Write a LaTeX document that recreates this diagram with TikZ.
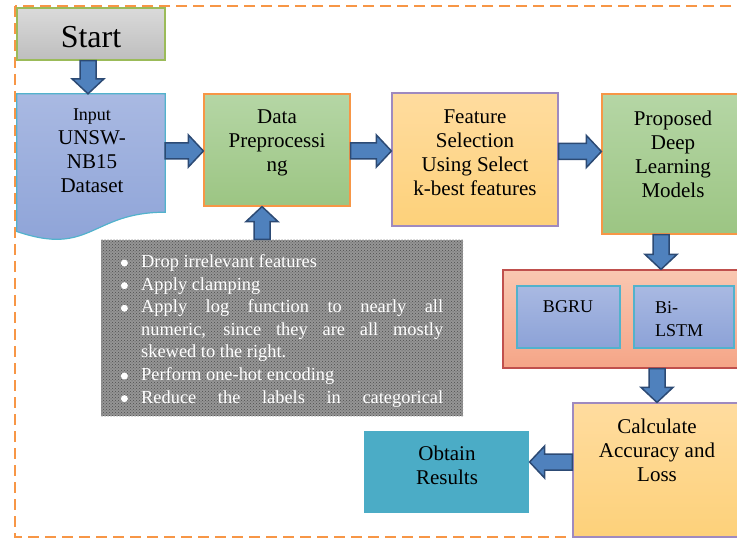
\documentclass[tikz,border=0pt]{standalone}
\usepackage{fontspec}
\setmainfont{Liberation Serif}
\usetikzlibrary{calc,patterns}

\definecolor{frameorange}{HTML}{F79646}
\definecolor{arrowfill}{HTML}{4F81BD}
\definecolor{arrowline}{HTML}{2C4A74}
\definecolor{grayTop}{HTML}{DADADA}
\definecolor{grayBot}{HTML}{BEBEBE}
\definecolor{grayLine}{HTML}{9BBB59}
\definecolor{blueTop}{HTML}{A9B9E2}
\definecolor{blueBot}{HTML}{8CA2D7}
\definecolor{blueLine}{HTML}{52B2CC}
\definecolor{greenTop}{HTML}{B5D6A5}
\definecolor{greenBot}{HTML}{9CC583}
\definecolor{greenLine}{HTML}{F79646}
\definecolor{yellowTop}{HTML}{FFDC9F}
\definecolor{yellowBot}{HTML}{FDD17A}
\definecolor{yellowLine}{HTML}{9F8AC0}
\definecolor{redTop}{HTML}{F9C7B1}
\definecolor{redBot}{HTML}{F5A587}
\definecolor{redLine}{HTML}{C0504D}
\definecolor{tealFill}{HTML}{4BACC6}
\definecolor{noteGray}{HTML}{959595}
\definecolor{noteDots}{HTML}{4E4E4E}

% block arrows: #1 tail point, #2 tip point
\newcommand\arrowdown[2]{\draw[barrow] let \p1=#1, \p2=#2 in
  (\x1-8,\y1) -- (\x1-8,\y2+15) -- (\x1-16,\y2+15) -- (\x1,\y2)
  -- (\x1+16,\y2+15) -- (\x1+8,\y2+15) -- (\x1+8,\y1) -- cycle;}
\newcommand\arrowup[2]{\draw[barrow] let \p1=#1, \p2=#2 in
  (\x1-8,\y1) -- (\x1-8,\y2-15) -- (\x1-16,\y2-15) -- (\x1,\y2)
  -- (\x1+16,\y2-15) -- (\x1+8,\y2-15) -- (\x1+8,\y1) -- cycle;}
\newcommand\arrowright[2]{\draw[barrow] let \p1=#1, \p2=#2 in
  (\x1,\y1-8) -- (\x2-15,\y1-8) -- (\x2-15,\y1-16) -- (\x2,\y1)
  -- (\x2-15,\y1+16) -- (\x2-15,\y1+8) -- (\x1,\y1+8) -- cycle;}
\newcommand\arrowleft[2]{\draw[barrow] let \p1=#1, \p2=#2 in
  (\x1,\y1-8) -- (\x2+15,\y1-8) -- (\x2+15,\y1-16) -- (\x2,\y1)
  -- (\x2+15,\y1+16) -- (\x2+15,\y1+8) -- (\x1,\y1+8) -- cycle;}
% round list bullet hanging left of the text
\newcommand\notebullet{\leavevmode\llap{\tikz[baseline=0pt]\fill (3.5pt,4.5pt) circle[radius=3.5pt];\hspace{13.3pt}}}

\begin{document}
\begin{tikzpicture}[x=1pt,y=-1pt,
  frame/.style={draw=frameorange, line width=2.6pt, dash pattern=on 11pt off 6pt},
  box/.style={rectangle, inner sep=0pt, line width=1.2pt},
  graybox/.style={box, top color=grayTop, bottom color=grayBot, draw=grayLine},
  bluebox/.style={box, top color=blueTop, bottom color=blueBot, draw=blueLine},
  greenbox/.style={box, top color=greenTop, bottom color=greenBot, draw=greenLine},
  yellowbox/.style={box, top color=yellowTop, bottom color=yellowBot, draw=yellowLine},
  redbox/.style={box, top color=redTop, bottom color=redBot, draw=redLine},
  tealbox/.style={box, fill=tealFill},
  notebox/.style={box, fill=noteGray, postaction={pattern=crosshatch dots, pattern color=noteDots}},
  barrow/.style={fill=arrowfill, draw=arrowline, line width=1.5pt, line join=miter},
  txt/.style={align=center, inner sep=0pt, font=\fontsize{21}{24}\selectfont},
  smalltxt/.style={inner sep=0pt, font=\fontsize{18}{22.5}\selectfont},
  notetxt/.style={text=white, inner sep=0pt, align=justify,
    font=\fontsize{18.4}{22.6}\selectfont}]
\useasboundingbox (0,0) rectangle (737,540);
\clip (0,0) rectangle (737,540);

% outer dashed frame
\draw[frame] (15,6) rectangle (760,537);

% boxes
\node[graybox, minimum width=148, minimum height=52] (start) at (91,34) {};
\node[inner sep=0pt, minimum width=148, minimum height=118] (inp) at (91,153) {};
\draw[top color=blueTop, bottom color=blueBot, draw=blueLine, line width=1.2pt]
  (inp.north west) -- (inp.north east) -- (inp.south east)
  .. controls (inp.south) and ($(inp.south)+(0,44.7)$) .. ($(inp.south west)+(0,19.3)$)
  -- cycle;
\node[greenbox, minimum width=146, minimum height=112] (data) at (277,150) {};
\node[yellowbox, minimum width=166, minimum height=133] (feat) at (475,159.5) {};
\node[greenbox, minimum width=143, minimum height=140] (prop) at (673.5,164) {};
\node[redbox, minimum width=267, minimum height=98] (models) at (636.5,319) {};
\node[bluebox, minimum width=103, minimum height=62] (bgru) at (568.5,317) {};
\node[bluebox, minimum width=100, minimum height=62] (bilstm) at (684,317) {};
\node[yellowbox, minimum width=168, minimum height=134] (calc) at (657,470) {};
\node[tealbox, minimum width=165, minimum height=82] (obtain) at (446.5,472) {};
\node[notebox, minimum width=362, minimum height=176] (notes) at (282,328) {};

% block arrows between the steps
\arrowdown{($(start.south)+(-3,0)$)}{($(inp.north)+(-3,0)$)}
\arrowright{($(inp.east)+(0,-2)$)}{($(data.west)+(0,1)$)}
\arrowright{($(data.east)+(0,1)$)}{($(feat.west)+(0,-8.5)$)}
\arrowright{($(feat.east)+(0,-8)$)}{($(prop.west)+(0,-12.5)$)}
\arrowdown{($(prop.south)+(-12.5,0)$)}{($(models.north)+(24.5,0)$)}
\arrowdown{($(models.south)+(20.5,0)$)}{(calc.north)}
\arrowleft{($(calc.west)+(0,-8)$)}{($(obtain.east)+(0,-10)$)}
\arrowup{($(notes.north)+(-20,0)$)}{($(data.south)+(-15,0)$)}

% labels
\node[inner sep=0pt, font=\fontsize{32}{36}\selectfont] (startT) at (91,37) {Start};
\node[txt] (inpT) at (92,151) {{\fontsize{18}{24}\selectfont Input}\\UNSW-\\NB15\\Dataset};
\node[txt] (dataT) at (277,143) {Data\\Preprocessi\\ng};
\node[txt] (featT) at (475,153) {Feature\\Selection\\Using Select\\k-best features};
\node[txt] (propT) at (673,154) {Proposed\\Deep\\Learning\\Models};
\node[smalltxt] (bgruT) at (568,306.5) {BGRU};
\node[smalltxt, align=left, anchor=west] (bilstmT) at (655,319) {Bi-\\LSTM};
\node[txt] (calcT) at (657,450) {Calculate\\Accuracy and\\Loss};
\node[txt] (obtainT) at (447,465) {Obtain\\Results};
\node[notetxt, anchor=north west, text width=302] (notesT) at (141,254.4) {%
\notebullet Drop irrelevant features\par
\notebullet Apply clamping\par
\notebullet Apply log function to nearly all\linebreak
numeric, since they are all mostly\linebreak
skewed to the right.\par
\notebullet Perform one-hot encoding\par
{\parfillskip=0pt \notebullet Reduce the labels in categorical\par}};
\end{tikzpicture}
\end{document}
